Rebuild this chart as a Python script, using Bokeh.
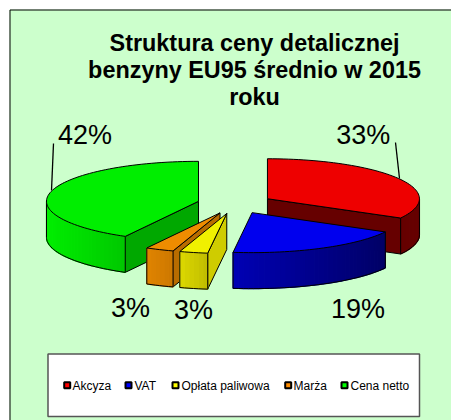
import math
from bokeh.plotting import figure
from bokeh.models import Range1d
from bokeh.embed import file_html
from bokeh.resources import INLINE
from bokeh.core.properties import value

categories = ["Akcyza", "VAT", "Opłata paliwowa", "Marża", "Cena netto"]
shares = [33, 19, 3, 3, 42]
labels = ["33%", "19%", "3%", "3%", "42%"]
top_colors = ["#ee0000", "#0000ee", "#f0f000", "#ee8c00", "#00ee00"]
legend_colors = ["#ff0000", "#0000ff", "#ffff00", "#ff8c00", "#00ff00"]
side_colors = ["#660000", "#000066", "#cfcc00", "#b86c00", "#00a800"]
wall_left = ["#660000", "#0000b4", "#dcd800", "#e08400", "#00ee00"]
wall_right = ["#660000", "#000066", "#c0bc00", "#cc7800", "#00c800"]
title_lines = ["Struktura ceny detalicznej", "benzyny EU95 średnio w 2015", "roku"]

BG = "#ccffcc"
CX, CY, RX, RY, DEPTH, EXPL = 234.5, 203.3, 152, 40, 36, 37.7

p = figure(width=451, height=420, output_backend="svg", toolbar_location=None,
           x_range=Range1d(0, 451), y_range=Range1d(420, 0), min_border=0,
           background_fill_color="#ffffff", border_fill_color="#ffffff", outline_line_color=None)
p.axis.visible = False
p.xgrid.visible = False
p.ygrid.visible = False

# chart area with its top and left edges
p.quad(left=[9], right=[451], top=[9], bottom=[420], fill_color=BG, line_color=None)
p.line([9.5, 9.5, 451], [420, 9.5, 9.5], line_color="#000000", line_width=1)


def hexmix(a, b, t):
    ca = [int(a[i:i + 2], 16) for i in (1, 3, 5)]
    cb = [int(b[i:i + 2], 16) for i in (1, 3, 5)]
    return "#%02x%02x%02x" % tuple(round(x + (y - x) * t) for x, y in zip(ca, cb))


def pt(ax, ay, deg):
    r = math.radians(deg)
    return ax + RX * math.sin(r), ay - RY * math.cos(r)


def arc(ax, ay, a0, a1, dy=0.0):
    n = max(2, int(abs(a1 - a0) / 2) + 2)
    pts = [pt(ax, ay, a0 + (a1 - a0) * i / (n - 1)) for i in range(n)]
    return [q[0] for q in pts], [q[1] + dy for q in pts]


slices = []
start = 0.0
for i, s in enumerate(shares):
    end = start + s * 3.6
    mid = math.radians((start + end) / 2)
    ax = CX + EXPL * math.sin(mid)
    ay = CY - EXPL * (RY / RX) * math.cos(mid)
    slices.append((i, start, end, ax, ay))
    start = end

for i, a0, a1, ax, ay in [slices[k] for k in (0, 1, 4, 3, 2)]:
    # radial walls that face the viewer
    for ang, sign in ((a0, 1), (a1, -1)):
        ex, ey = pt(ax, ay, ang)
        if sign * (ex - ax) < -1:
            p.patch([ax, ex, ex, ax], [ay, ey, ey + DEPTH, ay + DEPTH],
                    fill_color=side_colors[i], line_color="#000000", line_width=1)
    # outer wall, in narrow strips for the horizontal shading
    w0, w1 = max(a0, 90), min(a1, 270)
    if w1 > w0:
        xs, ys = arc(ax, ay, w0, w1)
        xmin, xmax = min(xs), max(xs)
        for k in range(len(xs) - 1):
            t = (0.5 * (xs[k] + xs[k + 1]) - xmin) / max(xmax - xmin, 1)
            col = hexmix(wall_left[i], wall_right[i], t)
            p.patch([xs[k], xs[k + 1], xs[k + 1], xs[k]],
                    [ys[k], ys[k + 1], ys[k + 1] + DEPTH, ys[k] + DEPTH],
                    fill_color=col, line_color=col, line_width=1.2)
        p.line(xs, [y + DEPTH for y in ys], line_color="#000000", line_width=1)
        p.line([xs[0], xs[0]], [ys[0], ys[0] + DEPTH], line_color="#000000", line_width=1)
        p.line([xs[-1], xs[-1]], [ys[-1], ys[-1] + DEPTH], line_color="#000000", line_width=1)
    # top surface
    xs, ys = arc(ax, ay, a0, a1)
    p.patch([ax] + xs, [ay] + ys, fill_color=top_colors[i], line_color="#000000", line_width=1)

# leader lines
p.line([51, 53], [190, 143], line_color="#000000", line_width=1.3)
p.line([399, 395], [178, 142], line_color="#000000", line_width=1.3)

# data labels
label_x = [362.7, 357.5, 193, 130, 84.5]
label_y = [134, 308.5, 309.5, 307.5, 134]
p.text(label_x, label_y, text=labels, text_font=value("Liberation Sans"), text_font_size="27px",
       text_align="center", text_baseline="middle", text_color="#000000")

# title
p.text([254, 254, 254], [42, 69, 96], text=title_lines, text_font=value("Liberation Sans"),
       text_font_style="bold", text_font_size="23.4px", text_align="center",
       text_baseline="middle", text_color="#000000")

# legend
p.quad(left=[47.5], right=[419], top=[353.5], bottom=[416], fill_color="#ffffff",
       line_color="#555555", line_width=1.5)
mark_x = [66.7, 128, 175, 287.7, 344]
text_x = [72, 134, 181, 293, 350]
p.scatter(mark_x, [384.7] * 5, marker="square", size=6, fill_color=legend_colors,
          line_color="#000000", line_width=2)
p.text(text_x, [385] * 5, text=categories, text_font=value("Liberation Sans"), text_font_size="12px",
       text_align="left", text_baseline="middle", text_color="#000000")

open("out.html", "w").write(file_html(p, INLINE))
